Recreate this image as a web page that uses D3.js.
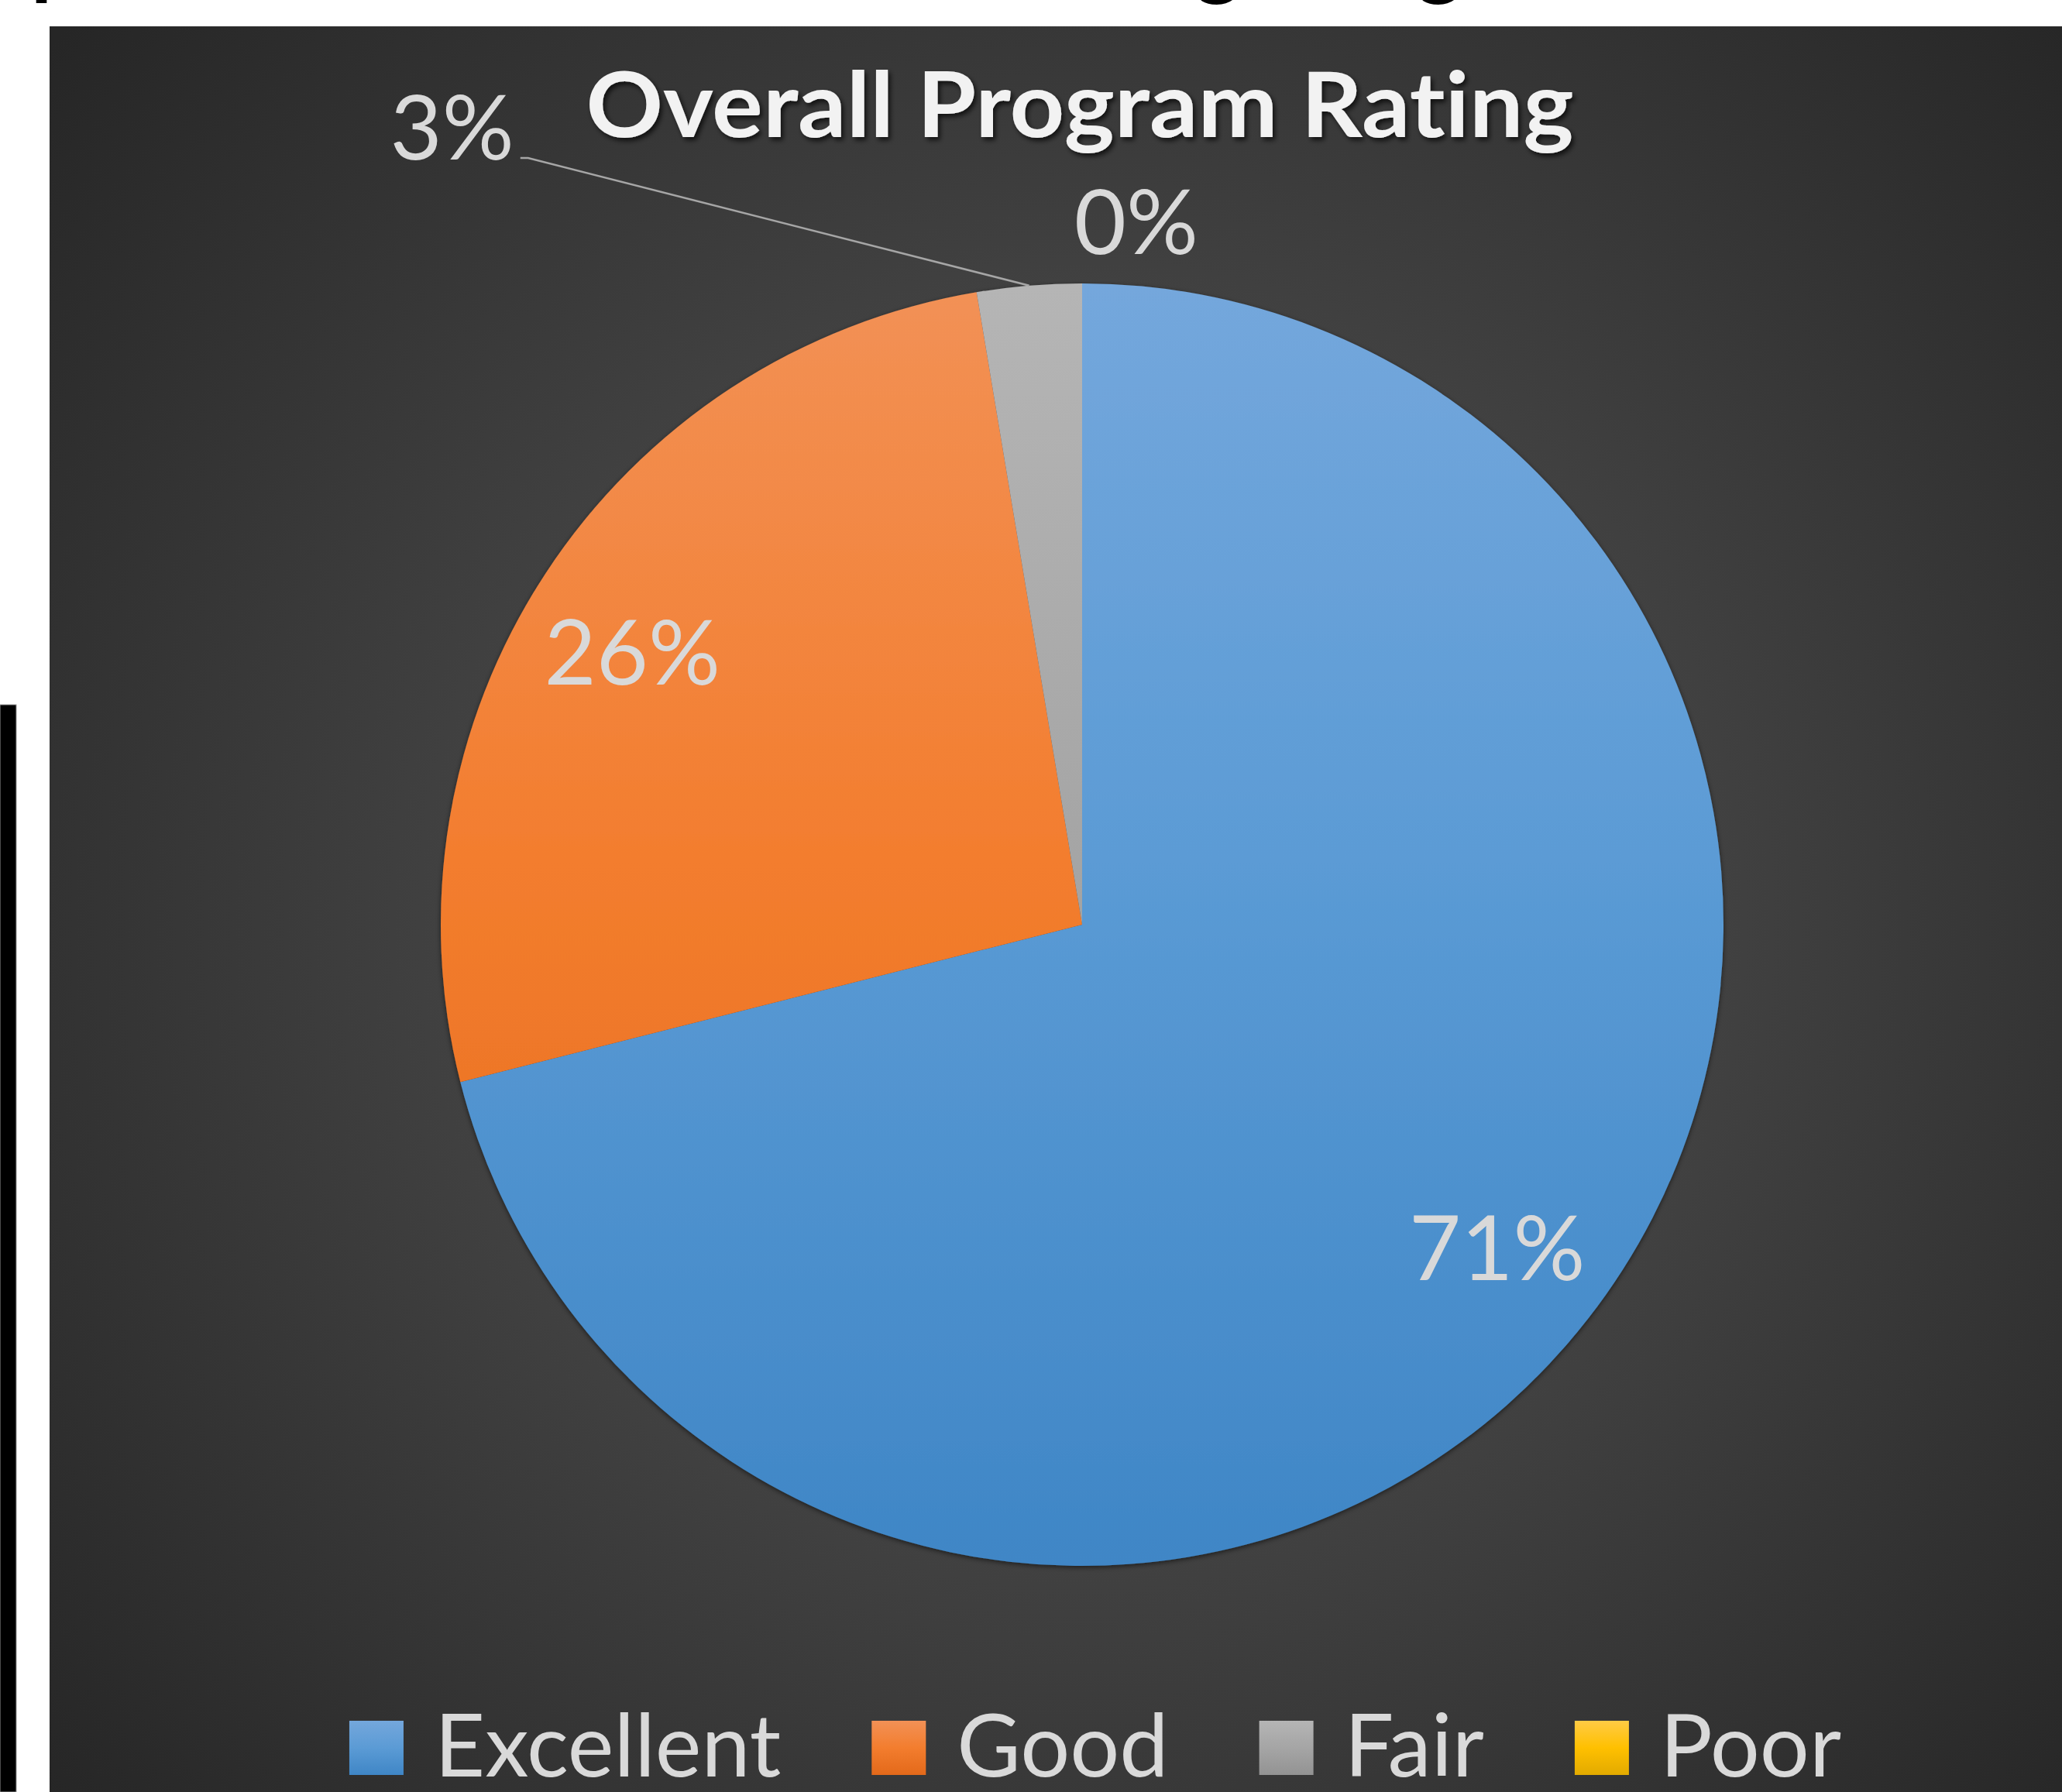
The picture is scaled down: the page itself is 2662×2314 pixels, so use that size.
<!DOCTYPE html>
<html>
<head>
<meta charset="utf-8">
<script src="https://cdn.jsdelivr.net/npm/d3@7"></script>
<style>
  html, body { margin: 0; padding: 0; background: #ffffff; }
  svg { display: block; }
  text { font-variant-ligatures: none; }
</style>
</head>
<body>
<div id="chart"></div>
<script>
// data
const categories = ["Excellent", "Good", "Fair", "Poor"];
const counts = [27, 10, 1, 0];
const sliceColors = {
  Excellent: ["#74a7dc", "#5b9bd5", "#3f86c6"],
  Good: ["#f29156", "#f37d2e", "#e3691a"],
  Fair: ["#b5b5b5", "#a5a5a5", "#939393"],
  Poor: ["#ffcb45", "#ffc000", "#e2aa00"]
};
const chartTitle = "Overall Program Rating";

const width = 2662;
const height = 2314;
const frame = { x: 64, y: 34 };
const cx = 1397, cy = 1194, radius = 828;

// where Excel put each label: fraction of radius, optional angle (deg)
const labelPlace = {
  Excellent: { r: 0.82 },
  Good: { r: 0.82, a: -58.8 },
  Fair: { r: 1.585, a: -38.3, leader: true },
  Poor: { r: 1.10, a: 4.4 }
};

const fontFamily = "Lato, 'Open Sans', 'Noto Sans', sans-serif";

const svg = d3.select("#chart")
  .append("svg")
  .attr("width", width)
  .attr("height", height);

const defs = svg.append("defs");

// dark radial background
const bg = defs.append("radialGradient")
  .attr("id", "bgGrad")
  .attr("gradientUnits", "userSpaceOnUse")
  .attr("cx", cx).attr("cy", cy).attr("r", 1750);
bg.append("stop").attr("offset", "0%").attr("stop-color", "#484848");
bg.append("stop").attr("offset", "45%").attr("stop-color", "#424242");
bg.append("stop").attr("offset", "100%").attr("stop-color", "#262626");

// slice gradients, top to bottom of the pie
categories.forEach((c, i) => {
  const g = defs.append("linearGradient")
    .attr("id", "slice" + i)
    .attr("gradientUnits", "userSpaceOnUse")
    .attr("x1", 0).attr("x2", 0)
    .attr("y1", -radius).attr("y2", radius);
  g.append("stop").attr("offset", "0%").attr("stop-color", sliceColors[c][0]);
  g.append("stop").attr("offset", "45%").attr("stop-color", sliceColors[c][1]);
  g.append("stop").attr("offset", "100%").attr("stop-color", sliceColors[c][2]);

  const lg = defs.append("linearGradient")
    .attr("id", "legend" + i)
    .attr("x1", 0).attr("x2", 0).attr("y1", 0).attr("y2", 1);
  lg.append("stop").attr("offset", "0%").attr("stop-color", sliceColors[c][0]);
  lg.append("stop").attr("offset", "50%").attr("stop-color", sliceColors[c][1]);
  lg.append("stop").attr("offset", "100%").attr("stop-color", sliceColors[c][2]);
});

const shadow = defs.append("filter").attr("id", "pieShadow")
  .attr("x", "-10%").attr("y", "-10%").attr("width", "120%").attr("height", "120%");
shadow.append("feDropShadow")
  .attr("dx", 0).attr("dy", 2).attr("stdDeviation", 3)
  .attr("flood-color", "#000").attr("flood-opacity", 0.55);

const titleShadow = defs.append("filter").attr("id", "titleShadow")
  .attr("x", "-5%").attr("y", "-20%").attr("width", "110%").attr("height", "140%");
titleShadow.append("feDropShadow")
  .attr("dx", 3).attr("dy", 4).attr("stdDeviation", 3)
  .attr("flood-color", "#000").attr("flood-opacity", 0.7);

// cut-off heading above the chart (only descenders show)
svg.append("g")
  .attr("fill", "#000")
  .attr("font-family", fontFamily)
  .attr("font-weight", "bold")
  .attr("font-size", "110px")
  .selectAll("text")
  .data([{ t: "p", x: 40 }, { t: "g", x: 1543 }, { t: "g", x: 1829 }])
  .join("text")
  .attr("x", d => d.x)
  .attr("y", -14)
  .text(d => d.t);

// black bar at the left edge
svg.append("rect")
  .attr("x", 0).attr("y", 910)
  .attr("width", 21).attr("height", height - 910)
  .attr("fill", "#000")
  .attr("stroke", "#9a9a9a").attr("stroke-width", 1);

// chart area
svg.append("rect")
  .attr("x", frame.x).attr("y", frame.y)
  .attr("width", width - frame.x).attr("height", height - frame.y)
  .attr("fill", "url(#bgGrad)");

// title
svg.append("text")
  .attr("x", 1394)
  .attr("y", 177)
  .attr("text-anchor", "middle")
  .attr("font-family", fontFamily)
  .attr("font-weight", "bold")
  .attr("font-size", "116px")
  .attr("textLength", 1275)
  .attr("lengthAdjust", "spacingAndGlyphs")
  .attr("fill", "#f2f2f2")
  .attr("filter", "url(#titleShadow)")
  .text(chartTitle);

// pie
const pieData = d3.pie().sort(null).value(d => d.value)(
  categories.map((c, i) => ({ name: c, value: counts[i], idx: i }))
);
const arc = d3.arc().innerRadius(0).outerRadius(radius);
const total = d3.sum(counts);
const pct = d3.format(".0%");

const pieG = svg.append("g")
  .attr("transform", `translate(${cx}, ${cy})`);

pieG.append("g")
  .attr("filter", "url(#pieShadow)")
  .selectAll("path")
  .data(pieData)
  .join("path")
  .attr("d", arc)
  .attr("fill", d => `url(#slice${d.data.idx})`);

// labels
const labelPoint = d => {
  const p = labelPlace[d.data.name];
  const mid = p.a !== undefined ? p.a * Math.PI / 180 : (d.startAngle + d.endAngle) / 2;
  const r = radius * p.r;
  return [Math.sin(mid) * r, -Math.cos(mid) * r];
};

const labels = pieG.append("g")
  .attr("font-family", fontFamily)
  .attr("font-size", "116px")
  .attr("fill", "#d9d9d9")
  .attr("text-anchor", "middle")
  .selectAll("text")
  .data(pieData)
  .join("text")
  .attr("x", d => labelPoint(d)[0])
  .attr("y", d => labelPoint(d)[1] + 42)
  .text(d => pct(d.data.value / total));

// leader line for the small slice
labels.each(function (d) {
  if (!labelPlace[d.data.name].leader) return;
  const [lx, ly] = labelPoint(d);
  const w = this.getComputedTextLength();
  const mid = (d.startAngle + d.endAngle) / 2;
  const ex = Math.sin(mid) * radius;
  const ey = -Math.cos(mid) * radius;
  const sx = lx + w / 2 + 8;
  const sy = ly + 40;
  pieG.append("path")
    .attr("d", `M${sx},${sy} L${sx + 10},${sy} L${ex},${ey}`)
    .attr("fill", "none")
    .attr("stroke", "#a6a6a6")
    .attr("stroke-width", 2.5);
});

// legend
const legend = svg.append("g")
  .attr("font-family", fontFamily)
  .attr("font-size", "113px")
  .attr("fill", "#d9d9d9");

const swatch = 70;
const gap = 117;
const items = legend.selectAll("g")
  .data(categories)
  .join("g");
items.append("rect")
  .attr("width", swatch).attr("height", swatch)
  .attr("y", 2222)
  .attr("fill", (d, i) => `url(#legend${i})`);
items.append("text")
  .attr("x", swatch + 40)
  .attr("y", 2294)
  .text(d => d);

let xPos = 0;
items.each(function () {
  const tw = d3.select(this).select("text").node().getComputedTextLength();
  d3.select(this).attr("transform", `translate(${xPos}, 0)`);
  xPos += swatch + 40 + tw + gap;
});
const legendWidth = xPos - gap;
legend.attr("transform", `translate(${1414 - legendWidth / 2}, 0)`);
</script>
</body>
</html>
